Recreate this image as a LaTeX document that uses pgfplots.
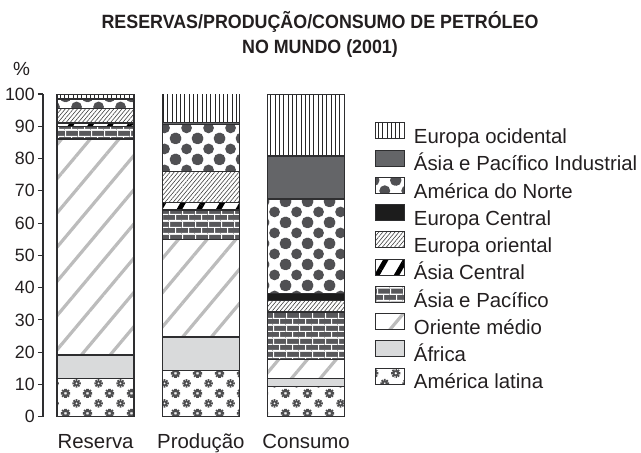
\documentclass[border=0pt]{standalone}
\usepackage{fontspec}
\setmainfont{Liberation Sans}
\usepackage{pgfplots}
\pgfplotsset{compat=1.18}
\usetikzlibrary{patterns,patterns.meta}

\definecolor{txt}{HTML}{231F20}
\definecolor{barline}{HTML}{2E2E30}
\definecolor{apigray}{HTML}{646568}
\definecolor{ecblack}{HTML}{1C1C1C}
\definecolor{afrgray}{HTML}{D9DADB}
\definecolor{dotc}{HTML}{505053}
\definecolor{gearc}{HTML}{4E4E50}
\definecolor{brickc}{HTML}{58585B}
\definecolor{omgray}{HTML}{BCBCBC}

\tikzdeclarepattern{
  name=bigdots, type=colored,
  bottom left={(0pt,0pt)}, top right={(11pt,10.5pt)}, tile size={(11pt,10.5pt)},
  code={
    \fill[dotc] (0pt,0pt) circle (2.8pt);
    \fill[dotc] (11pt,0pt) circle (2.8pt);
    \fill[dotc] (0pt,10.5pt) circle (2.8pt);
    \fill[dotc] (11pt,10.5pt) circle (2.8pt);
    \fill[dotc] (5.5pt,5.25pt) circle (2.8pt);
  }
}

\tikzdeclarepattern{
  name=darkbricks, type=colored,
  bottom left={(0pt,0pt)}, top right={(6.5pt,6.3pt)}, tile size={(6.5pt,6.3pt)},
  code={
    \fill[brickc] (0pt,0pt) rectangle (6.5pt,6.3pt);
    \draw[white, line width=0.55pt] (0pt,0.3pt) -- (6.5pt,0.3pt);
    \draw[white, line width=0.55pt] (0pt,3.45pt) -- (6.5pt,3.45pt);
    \draw[white, line width=0.55pt] (3.5pt,0.3pt) -- (3.5pt,3.45pt);
    \draw[white, line width=0.55pt] (0.3pt,3.45pt) -- (0.3pt,6.3pt);
  }
}

\newcommand\gearat[1]{%
  \begin{scope}[shift={#1}]
    \fill[gearc] (0pt,0pt) circle (1.4pt);
    \draw[gearc, line width=0.95pt] (0:2.2pt) -- (180:2.2pt);
    \draw[gearc, line width=0.95pt] (45:2.2pt) -- (225:2.2pt);
    \draw[gearc, line width=0.95pt] (90:2.2pt) -- (270:2.2pt);
    \draw[gearc, line width=0.95pt] (135:2.2pt) -- (315:2.2pt);
    \fill[white] (0pt,0pt) circle (0.5pt);
  \end{scope}}

\tikzdeclarepattern{
  name=gears, type=colored,
  bottom left={(0pt,0pt)}, top right={(11pt,10pt)}, tile size={(11pt,10pt)},
  code={
    \gearat{(0pt,0pt)}
    \gearat{(11pt,0pt)}
    \gearat{(0pt,10pt)}
    \gearat{(11pt,10pt)}
    \gearat{(5.5pt,5pt)}
  }
}

\begin{document}
\begin{tikzpicture}
\useasboundingbox (-21.5pt,-17.65pt) rectangle (299pt,208.35pt);
\begin{axis}[
  at={(0pt,0pt)}, anchor=south west,
  scale only axis, width=157.875pt, height=161.35pt,
  xmin=-0.5, xmax=2.5, ymin=0, ymax=100,
  ybar stacked, bar width=38.5pt,
  axis y line*=left, axis x line*=bottom,
  x axis line style={draw=none},
  y axis line style={draw=barline, line width=0.55pt},
  xtick={0,1,2}, xticklabels={Reserva,Produção,Consumo},
  xtick style={draw=none},
  ytick={0,10,...,100},
  ytick align=outside, major tick length=2.6pt,
  ytick style={draw=barline, line width=0.55pt},
  /pgf/number format/assume math mode=true,
  yticklabel style={font=\fontsize{8.9}{10}\selectfont, text=txt, anchor=east, inner sep=0pt, xshift=-1.3pt},
  xticklabel style={font=\fontsize{10.2}{12}\selectfont, text=txt, anchor=base, inner sep=0pt, yshift=-15.65pt},
  every axis plot/.append style={draw=barline, line width=0.7pt},
  every axis plot post/.append style={legend image code/.code={\draw[##1, line width=0.55pt] (0pt,-0.4pt) rectangle (14.5pt,7.6pt);}},
  reverse legend,
  legend cell align=left,
  legend style={draw=none, fill=none, at={(axis description cs:1.0515,0.9123)}, anchor=north west,
    inner sep=0pt, outer sep=0pt, row sep=1.35pt, column sep=4.4pt,
    nodes={inner sep=0pt, text height=7.2pt, text depth=1.6pt, font=\fontsize{10.2}{12}\selectfont, text=txt}},
]
% America latina
\addplot[pattern=gears] coordinates {(0,11.9) (1,14.3) (2,9.3)};
% Africa
\addplot[fill=afrgray] coordinates {(0,7.2) (1,10.4) (2,2.6)};
% Oriente medio
\addplot[pattern={Lines[angle=50,distance=11pt,line width=1.6pt]}, pattern color=omgray] coordinates {(0,66.9) (1,30.2) (2,5.9)};
% Asia e Pacifico
\addplot[pattern=darkbricks] coordinates {(0,4.0) (1,9.2) (2,14.5)};
% Asia Central
\addplot[pattern={Lines[angle=60,distance=8.5pt,line width=2.4pt]}, pattern color=black] coordinates {(0,1.0) (1,2.3) (2,0.3)};
% Europa oriental
\addplot[pattern={Lines[angle=50,distance=1.55pt,line width=0.3pt]}, pattern color=black!75] coordinates {(0,4.5) (1,9.6) (2,3.4)};
% Europa Central
\addplot[fill=ecblack] coordinates {(0,0) (1,0) (2,2.2)};
% America do Norte
\addplot[pattern=bigdots] coordinates {(0,3.0) (1,14.6) (2,29.3)};
% Asia e Pacifico Industrial
\addplot[fill=apigray] coordinates {(0,0) (1,0.5) (2,13.3)};
% Europa ocidental
\addplot[pattern={Lines[angle=90,distance=2.15pt,line width=0.45pt]}, pattern color=black!85] coordinates {(0,1.5) (1,9.0) (2,19.2)};
\legend{América latina, África, Oriente médio, Ásia e Pacífico, Ásia Central, Europa oriental, Europa Central, América do Norte, Ásia e Pacífico Industrial, Europa ocidental}
\end{axis}
\node[anchor=base, text=txt, inner sep=0pt, font=\bfseries\fontsize{9.6}{11}\selectfont, xscale=0.93] at (138.5pt,194.35pt) {RESERVAS/PRODUÇÃO/CONSUMO DE PETRÓLEO};
\node[anchor=base, text=txt, inner sep=0pt, font=\bfseries\fontsize{9.6}{11}\selectfont, xscale=0.93] at (138.5pt,181.85pt) {NO MUNDO (2001)};
\node[anchor=base, text=txt, inner sep=0pt, font=\fontsize{9.5}{11}\selectfont] at (-10.75pt,170.85pt) {\%};
\end{tikzpicture}
\end{document}
